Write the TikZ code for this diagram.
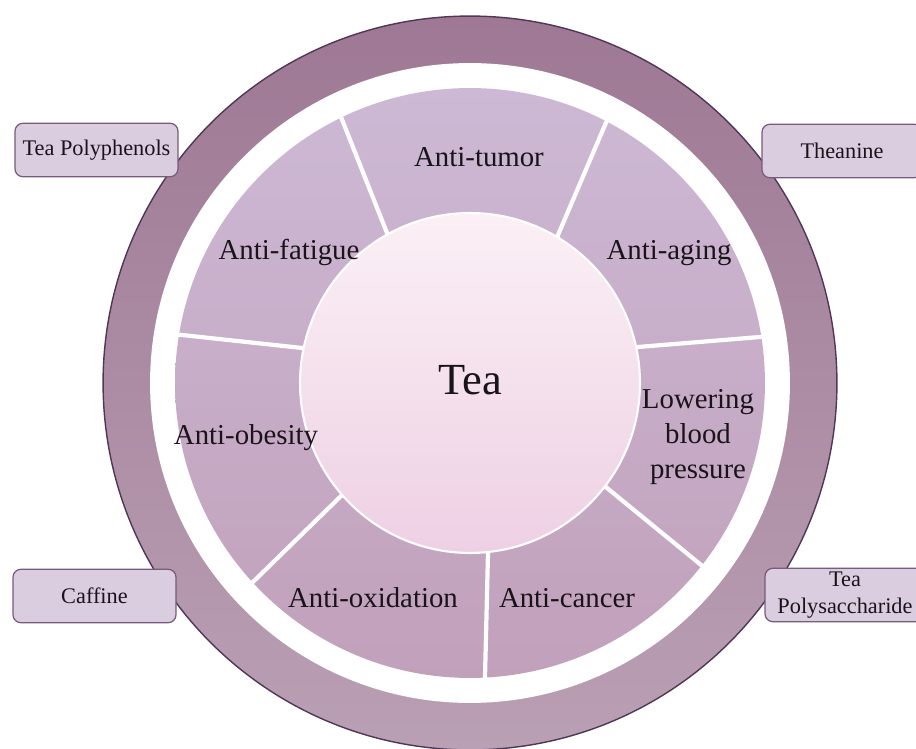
\documentclass[tikz,border=0pt]{standalone}
\usepackage{fontspec}
\setmainfont{Liberation Serif}
\usetikzlibrary{calc}
\definecolor{ringtop}{RGB}{158,120,148}
\definecolor{ringbot}{RGB}{186,160,180}
\definecolor{ringedge}{RGB}{80,55,85}
\definecolor{segtop}{RGB}{205,185,213}
\definecolor{segbot}{RGB}{193,160,186}
\definecolor{teatop}{RGB}{251,240,245}
\definecolor{teabot}{RGB}{238,208,228}
\definecolor{boxfill}{RGB}{218,205,224}
\definecolor{boxedge}{RGB}{120,90,125}
\definecolor{txt}{RGB}{25,20,25}
\begin{document}
\begin{tikzpicture}[x=0.02cm,y=-0.02cm,
  segline/.style={white,line width=2.4pt},
  seglabel/.style={text=txt,font=\fontsize{16.4}{19.8}\selectfont,align=center,inner sep=0pt},
  sidebox/.style={draw=boxedge,line width=0.7pt,fill=boxfill,rounded corners=4.5pt,
    minimum height=1.07cm,text=txt,font=\fontsize{12.7}{15.3}\selectfont,align=center,inner sep=1pt}]
\useasboundingbox (0,0) rectangle (916,749);
\coordinate (c) at (470,383);
% outer ring
\shade[top color=ringtop,bottom color=ringbot] (c) circle[radius=7.34cm];
\draw[ringedge,line width=0.8pt] (c) circle[radius=7.34cm];
\fill[white] (c) circle[radius=6.4cm];
% segment ring
\shade[top color=segtop,bottom color=segbot] (c) circle[radius=5.9cm];
% segment separators
\coordinate (a1) at (343,122); \coordinate (b1) at (387,233);
\coordinate (a2) at (605,125); \coordinate (b2) at (558,235);
\coordinate (a3) at (760,337); \coordinate (b3) at (638,347);
\coordinate (a4) at (695,560); \coordinate (b4) at (607,488);
\coordinate (a5) at (485,677); \coordinate (b5) at (488,553);
\coordinate (a6) at (255,580); \coordinate (b6) at (340,497);
\coordinate (a7) at (182,335); \coordinate (b7) at (302,348);
\foreach \i in {1,...,7}{
  \draw[segline] ($(a\i)!-0.12!(b\i)$) -- ($(b\i)!-0.25!(a\i)$);
}
% Tea circle
\shade[top color=teatop,bottom color=teabot] (c) circle[radius=3.4cm];
\draw[white,line width=1.2pt] (c) circle[radius=3.4cm];
\node[text=txt,font=\fontsize{25.3}{30}\selectfont,inner sep=0pt] (tea) at (470,380) {Tea};
% segment labels
\node[seglabel] (tumor) at (479,157) {Anti-tumor};
\node[seglabel] (fatigue) at (289,252) {Anti-fatigue};
\node[seglabel] (aging) at (669,253) {Anti-aging};
\node[seglabel] (bp) at (698,437) {Lowering\\blood\\pressure};
\node[seglabel] (obesity) at (246,438) {Anti-obesity};
\node[seglabel] (oxid) at (373,598) {Anti-oxidation};
\node[seglabel] (cancer) at (567,598) {Anti-cancer};
% side boxes
\node[sidebox,minimum width=3.26cm] (poly) at (96.5,150) {Tea Polyphenols};
\node[sidebox,minimum width=3.2cm] (thea) at (842,151) {Theanine};
\node[sidebox,minimum width=3.26cm] (caff) at (94.5,596) {Caffine};
\node[sidebox,minimum width=3.2cm] (polys) at (845,595) {Tea\\Polysaccharide};
\end{tikzpicture}
\end{document}
